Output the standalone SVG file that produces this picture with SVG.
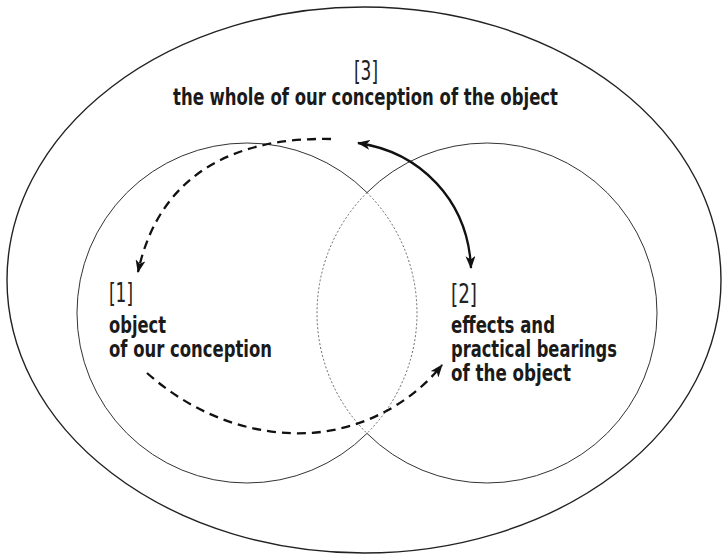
<svg xmlns="http://www.w3.org/2000/svg" width="722" height="557" viewBox="0 0 722 557">
<style>
.bg{fill:#fff}
.outer{fill:none;stroke:#222;stroke-width:1.4}
.ring{fill:none;stroke:#333;stroke-width:1}
.dot{fill:none;stroke:#444;stroke-width:0.8;stroke-dasharray:2 2}
.dash{fill:none;stroke:#111;stroke-width:2.3;stroke-dasharray:9 6}
.solid{fill:none;stroke:#111;stroke-width:2.3}
.lbl{font-family:"DejaVu Sans Condensed","Liberation Sans Narrow","DejaVu Sans",sans-serif;font-stretch:condensed;font-size:23px;fill:#1a1a1a}
.num{font-weight:normal;fill:#222;font-size:26px}
.b{font-weight:bold}
</style>
<defs>
<marker id="ah" viewBox="0 0 13 10" refX="12" refY="5" markerWidth="13" markerHeight="10" markerUnits="userSpaceOnUse" orient="auto-start-reverse">
<path d="M0,0 L13,5 L0,10 L3.5,5 z" fill="#111"/>
</marker>
</defs>
<rect class="bg" x="0" y="0" width="722" height="557"/>
<g id="whole">
<ellipse class="outer" cx="364" cy="280" rx="357" ry="273"/>
<text class="lbl num" x="366" y="80" text-anchor="middle" textLength="24" lengthAdjust="spacingAndGlyphs">[3]</text>
<text class="lbl b" x="173" y="105" textLength="385" lengthAdjust="spacingAndGlyphs">the whole of our conception of the object</text>
</g>
<g id="object">
<path class="ring" d="M367,192.6 A170,170 0 1 0 367,433.4"/>
<path class="dot" d="M367,192.6 A170,170 0 0 1 367,433.4"/>
<text class="lbl num" x="109" y="302" textLength="24" lengthAdjust="spacingAndGlyphs">[1]</text>
<text class="lbl b" x="109" y="333" textLength="57" lengthAdjust="spacingAndGlyphs">object</text>
<text class="lbl b" x="109" y="357" textLength="163" lengthAdjust="spacingAndGlyphs">of our conception</text>
</g>
<g id="effects">
<path class="ring" d="M367,192.6 A170,170 0 1 1 367,433.4"/>
<path class="dot" d="M367,192.6 A170,170 0 0 0 367,433.4"/>
<text class="lbl num" x="451" y="303" textLength="26" lengthAdjust="spacingAndGlyphs">[2]</text>
<text class="lbl b" x="451" y="333" textLength="104" lengthAdjust="spacingAndGlyphs">effects and</text>
<text class="lbl b" x="451" y="357" textLength="166" lengthAdjust="spacingAndGlyphs">practical bearings</text>
<text class="lbl b" x="451" y="381" textLength="120" lengthAdjust="spacingAndGlyphs">of the object</text>
</g>
<g id="connectors">
<path class="dash" d="M331,139 C240,137 160,170 138,272" marker-end="url(#ah)"/>
<path class="solid" d="M358,143 C420,152 468,200 471,268" marker-start="url(#ah)" marker-end="url(#ah)"/>
<path class="dash" d="M147,373 C200,420 260,436 310,433 C360,430 410,405 442,365" marker-end="url(#ah)"/>
</g>
</svg>
